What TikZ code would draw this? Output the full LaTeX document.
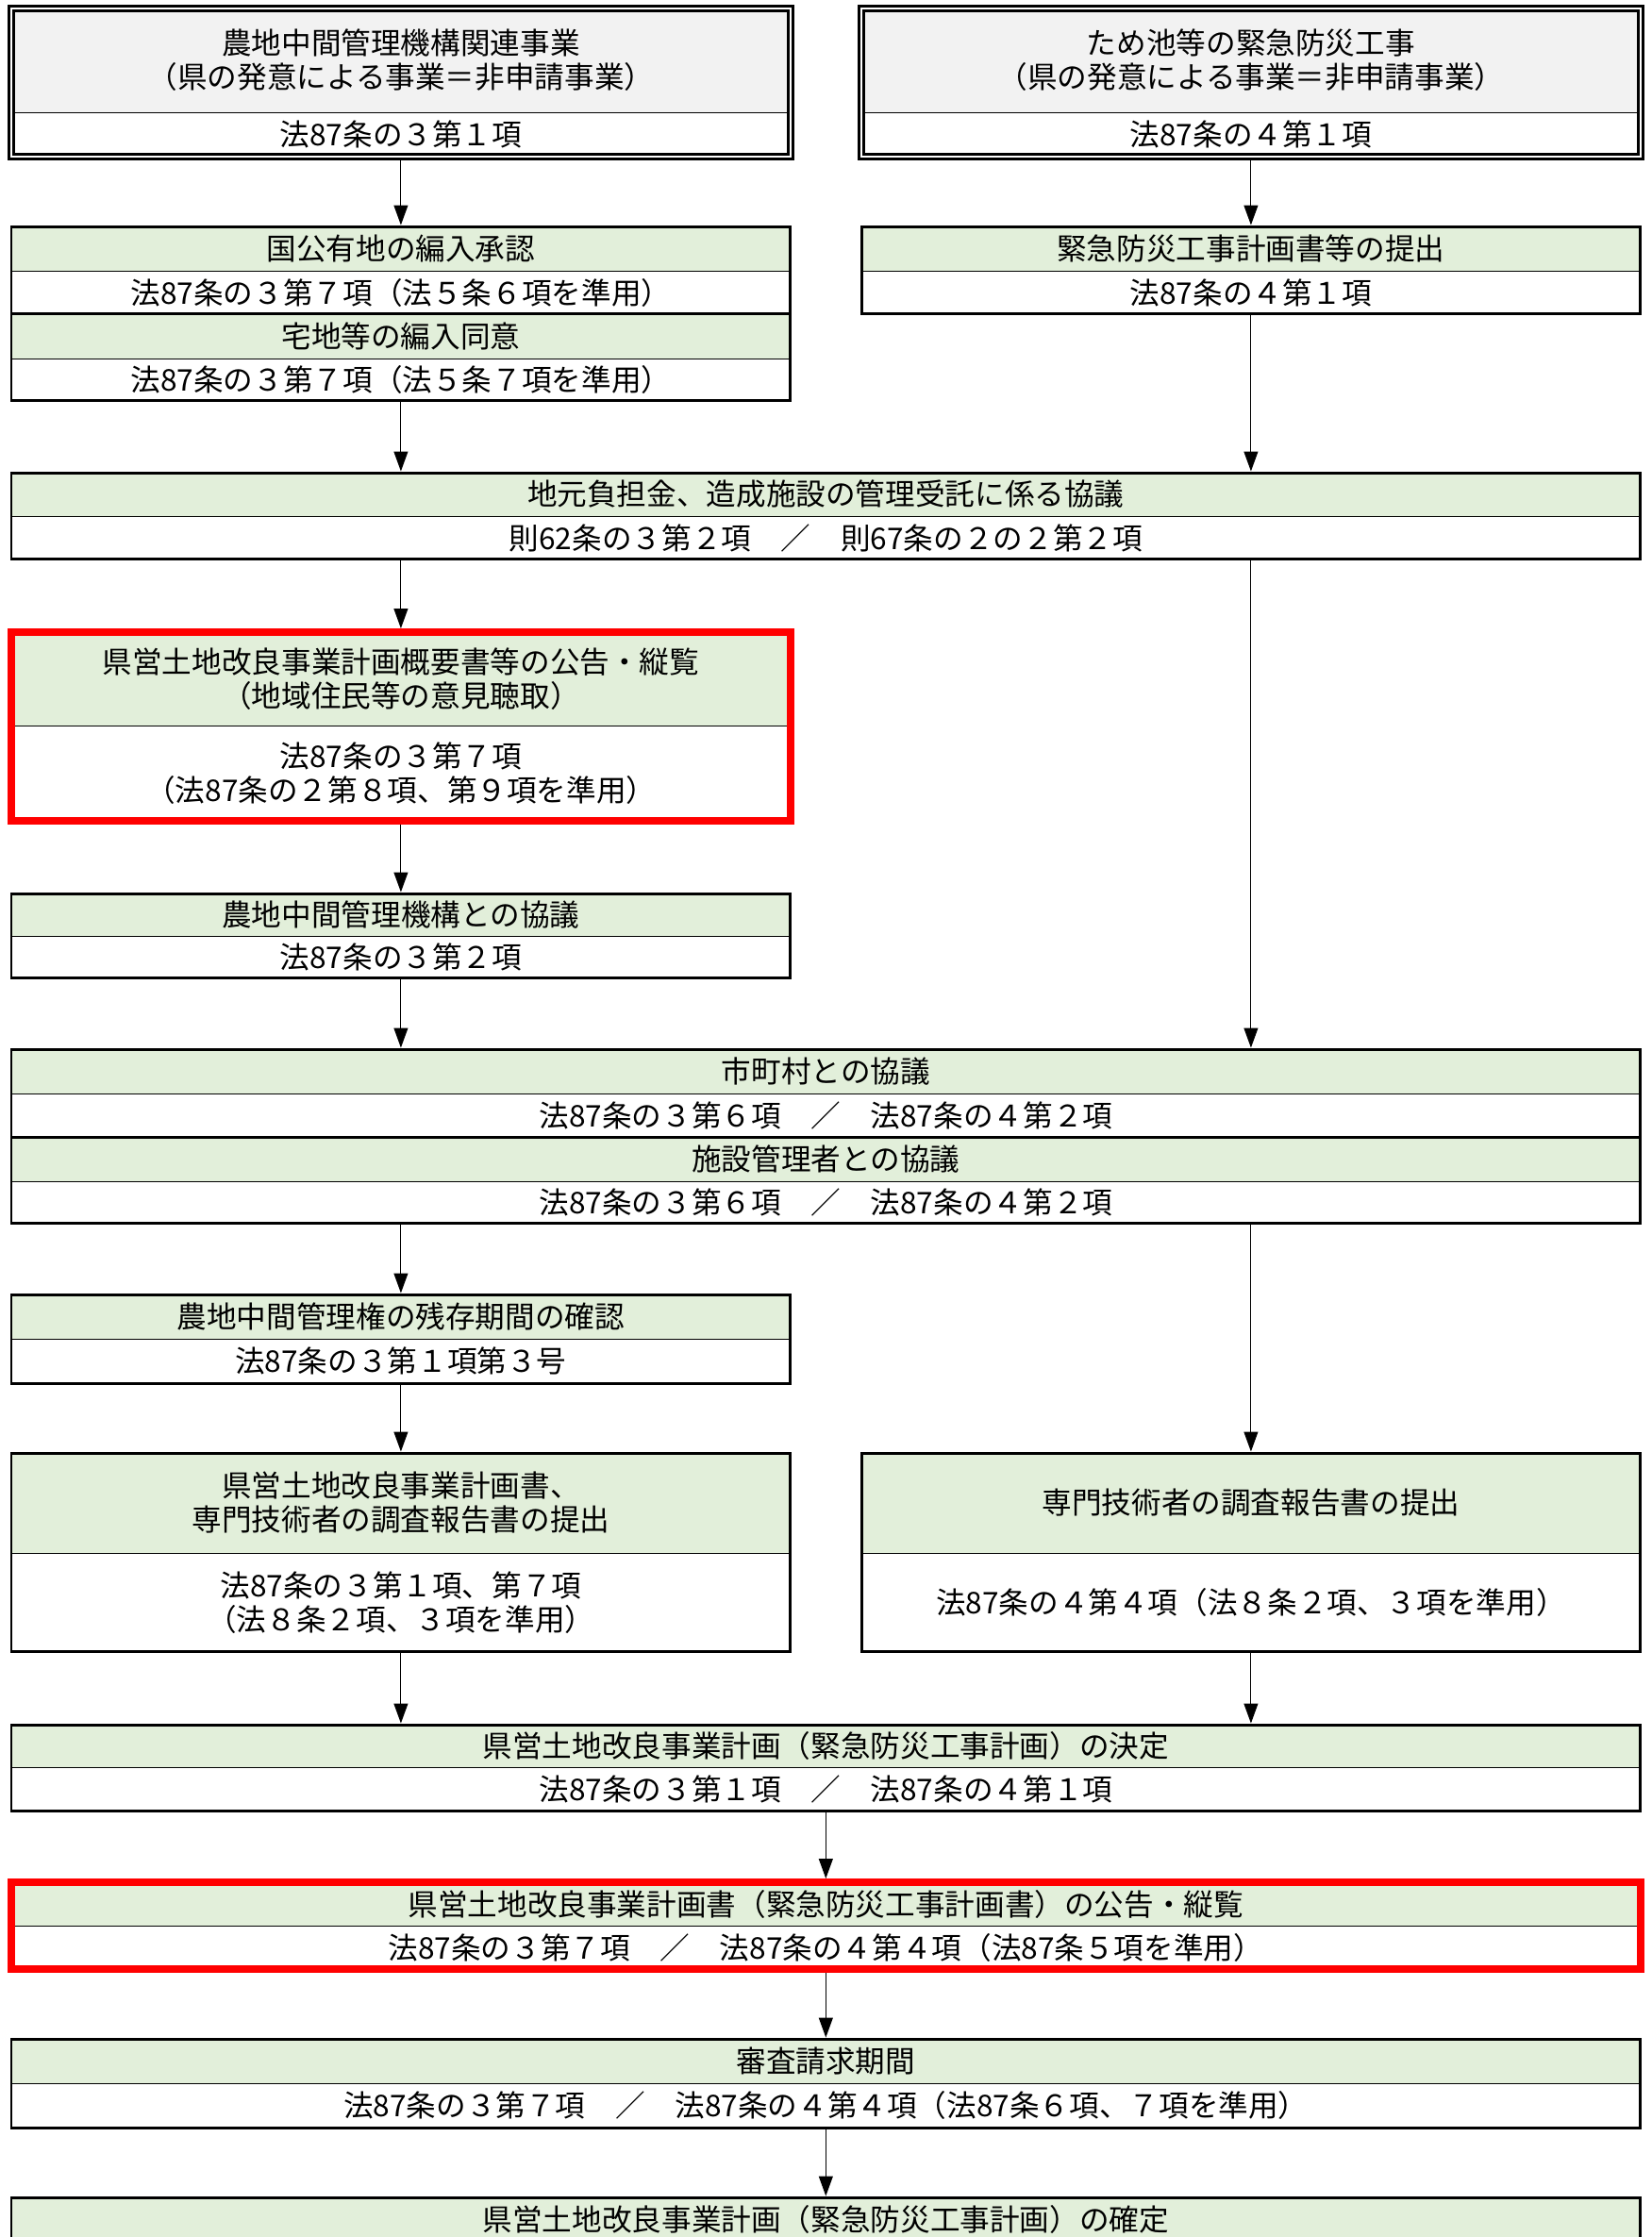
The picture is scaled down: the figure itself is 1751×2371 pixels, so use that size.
\documentclass[tikz,border=0pt]{standalone}
\usepackage{fontspec}
\newfontfamily\jpfont{Noto Sans CJK JP}
\usetikzlibrary{arrows.meta,positioning,fit}
\definecolor{headgray}{HTML}{F2F2F2}
\definecolor{headgreen}{HTML}{E2EFDA}

\begin{document}
\begin{tikzpicture}[x=0.02cm,y=-0.02cm,>={Triangle[length=0.42cm,width=0.3cm]},
                    node distance=0pt,
                    box row/.style={draw,line width=0.5pt,inner sep=0pt,outer sep=0pt,align=center,
                                    font=\jpfont\fontsize{18pt}{20.5pt}\selectfont},
                    half width/.style={minimum width=16.52cm},
                    full width/.style={minimum width=34.54cm},
                    head node/.style={box row,fill=headgreen,minimum height=#1},
                    law node/.style={box row,fill=white,minimum height=#1},
                    box frame/.style={draw,line width=0.06cm,inner sep=0pt},
                    double frame/.style={draw,double,double distance=0.03cm,line width=0.07cm,inner sep=0pt},
                    red frame/.style={draw=red,line width=0.16cm,inner sep=0pt},
                    flow/.style={->,line width=0.6pt}]
  \useasboundingbox (0,0) rectangle (1751,2371);
  \clip (0,0) rectangle (1751,2371);

  % top: the two kinds of project
  \node[head node=2.2cm,fill=headgray,half width,anchor=north west] (ah) at (12,9)
    {農地中間管理機構関連事業\\（県の発意による事業＝非申請事業）};
  \node[law node=0.94cm,half width,below=of ah] (al) {法87条の３第１項};
  \node[double frame,fit=(ah)(al)] (a) {};

  \node[head node=2.2cm,fill=headgray,half width,anchor=north west] (bh) at (913,9)
    {ため池等の緊急防災工事\\（県の発意による事業＝非申請事業）};
  \node[law node=0.94cm,half width,below=of bh] (bl) {法87条の４第１項};
  \node[double frame,fit=(bh)(bl)] (b) {};

  % left column
  \node[head node=0.94cm,half width,anchor=north west] (c1h) at (12,240) {国公有地の編入承認};
  \node[law node=0.92cm,half width,below=of c1h] (c1l) {法87条の３第７項（法５条６項を準用）};
  \node[box frame,fit=(c1h)(c1l)] (c1) {};
  \node[head node=0.94cm,half width,below=of c1l] (c2h) {宅地等の編入同意};
  \node[law node=0.90cm,half width,below=of c2h] (c2l) {法87条の３第７項（法５条７項を準用）};
  \node[box frame,fit=(c2h)(c2l)] (c2) {};

  % right column
  \node[head node=0.94cm,half width,anchor=north west] (dh) at (913,240) {緊急防災工事計画書等の提出};
  \node[law node=0.92cm,half width,below=of dh] (dl) {法87条の４第１項};
  \node[box frame,fit=(dh)(dl)] (d) {};

  \node[head node=0.92cm,full width,anchor=north west] (eh) at (12,501)
    {地元負担金、造成施設の管理受託に係る協議};
  \node[law node=0.92cm,full width,below=of eh] (el) {則62条の３第２項　／　則67条の２の２第２項};
  \node[box frame,fit=(eh)(el)] (e) {};

  \node[head node=1.98cm,half width,anchor=north west] (fh) at (12,670)
    {県営土地改良事業計画概要書等の公告・縦覧\\（地域住民等の意見聴取）};
  \node[law node=2.02cm,half width,below=of fh] (fl)
    {法87条の３第７項\\（法87条の２第８項、第９項を準用）};
  \node[red frame,fit=(fh)(fl)] (f) {};

  \node[head node=0.90cm,half width,anchor=north west] (gh) at (12,947) {農地中間管理機構との協議};
  \node[law node=0.90cm,half width,below=of gh] (gl) {法87条の３第２項};
  \node[box frame,fit=(gh)(gl)] (g) {};

  \node[head node=0.94cm,full width,anchor=north west] (h1h) at (12,1112) {市町村との協議};
  \node[law node=0.92cm,full width,below=of h1h] (h1l) {法87条の３第６項　／　法87条の４第２項};
  \node[box frame,fit=(h1h)(h1l)] (h1) {};
  \node[head node=0.94cm,full width,below=of h1l] (h2h) {施設管理者との協議};
  \node[law node=0.90cm,full width,below=of h2h] (h2l) {法87条の３第６項　／　法87条の４第２項};
  \node[box frame,fit=(h2h)(h2l)] (h2) {};

  \node[head node=0.94cm,half width,anchor=north west] (ih) at (12,1372) {農地中間管理権の残存期間の確認};
  \node[law node=0.94cm,half width,below=of ih] (il) {法87条の３第１項第３号};
  \node[box frame,fit=(ih)(il)] (i) {};

  \node[head node=2.12cm,half width,anchor=north west] (kh) at (12,1540)
    {県営土地改良事業計画書、\\専門技術者の調査報告書の提出};
  \node[law node=2.10cm,half width,below=of kh] (kl)
    {法87条の３第１項、第７項\\（法８条２項、３項を準用）};
  \node[box frame,fit=(kh)(kl)] (k) {};

  \node[head node=2.12cm,half width,anchor=north west] (jh) at (913,1540) {専門技術者の調査報告書の提出};
  \node[law node=2.10cm,half width,below=of jh] (jl) {法87条の４第４項（法８条２項、３項を準用）};
  \node[box frame,fit=(jh)(jl)] (j) {};

  % bottom: common steps
  \node[head node=0.90cm,full width,anchor=north west] (lh) at (12,1828)
    {県営土地改良事業計画（緊急防災工事計画）の決定};
  \node[law node=0.92cm,full width,below=of lh] (ll) {法87条の３第１項　／　法87条の４第１項};
  \node[box frame,fit=(lh)(ll)] (l) {};

  \node[head node=0.92cm,full width,anchor=north west] (mh) at (12,1995)
    {県営土地改良事業計画書（緊急防災工事計画書）の公告・縦覧};
  \node[law node=0.92cm,full width,below=of mh] (ml)
    {法87条の３第７項　／　法87条の４第４項（法87条５項を準用）};
  \node[red frame,fit=(mh)(ml)] (m) {};

  \node[head node=0.94cm,full width,anchor=north west] (nh) at (12,2161) {審査請求期間};
  \node[law node=0.94cm,full width,below=of nh] (nl)
    {法87条の３第７項　／　法87条の４第４項（法87条６項、７項を準用）};
  \node[box frame,fit=(nh)(nl)] (n) {};

  \node[head node=0.94cm,full width,anchor=north west] (oh) at (12,2329)
    {県営土地改良事業計画（緊急防災工事計画）の確定};
  \node[box frame,fit=(oh)] (o) {};

  % arrows
  \draw[flow] (a) -- (c1);
  \draw[flow] (b) -- (d);
  \draw[flow] (c2) -- (c2 |- e.north);
  \draw[flow] (d) -- (d |- e.north);
  \draw[flow] (e.south -| f) -- (f);
  \draw[flow] (e.south -| d) -- (d |- h1.north);
  \draw[flow] (f) -- (g);
  \draw[flow] (g) -- (g |- h1.north);
  \draw[flow] (h2.south -| i) -- (i);
  \draw[flow] (h2.south -| j) -- (j);
  \draw[flow] (i) -- (k);
  \draw[flow] (k) -- (k |- l.north);
  \draw[flow] (j) -- (j |- l.north);
  \draw[flow] (l) -- (m);
  \draw[flow] (m) -- (n);
  \draw[flow] (n) -- (o);
\end{tikzpicture}
\end{document}
